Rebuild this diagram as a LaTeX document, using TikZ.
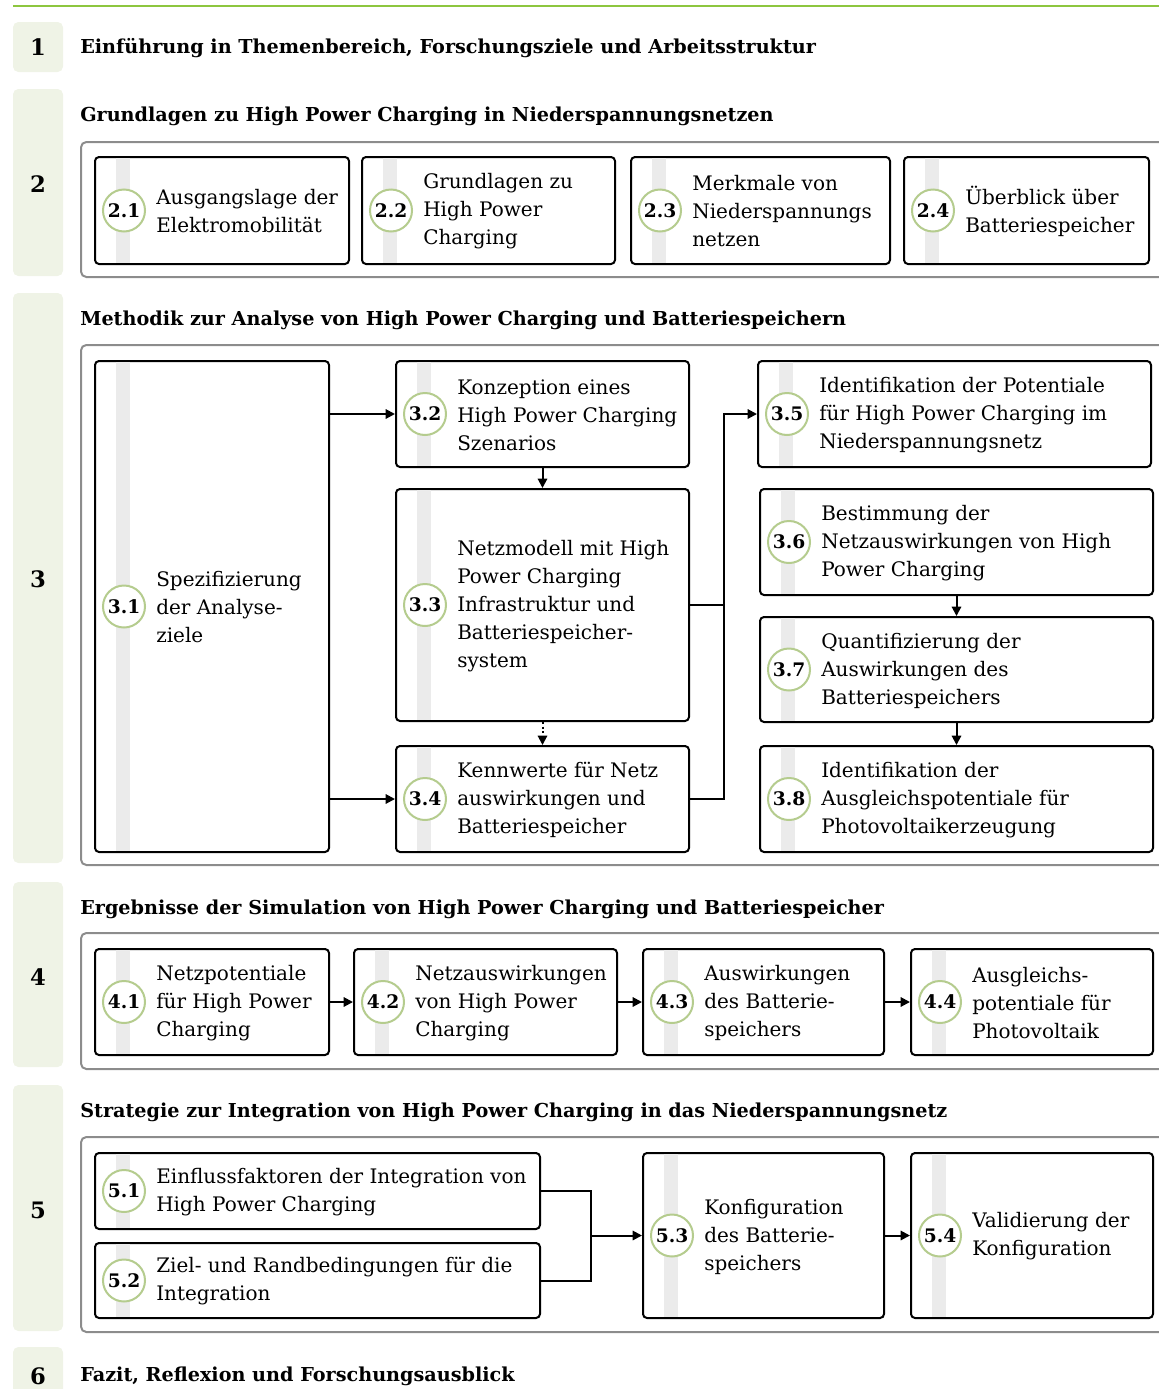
\documentclass[tikz,border=0pt]{standalone}
\usepackage{fontspec}
\setmainfont{DejaVu Serif}
\usetikzlibrary{arrows.meta}
\definecolor{grn}{RGB}{141,198,63}
\definecolor{chapfill}{RGB}{239,243,230}
\definecolor{circ}{RGB}{181,204,142}
\definecolor{strp}{RGB}{235,235,235}
\definecolor{outerc}{RGB}{140,140,140}
\tikzset{
  stepbox/.style={draw=black, line width=1.5pt, rounded corners=3pt, fill=white, inner sep=0pt},
  numcirc/.style={circle, draw=circ, line width=1.5pt, fill=white, minimum size=31.5pt, inner sep=0pt, font=\fontsize{14}{18}\selectfont\bfseries},
  steptext/.style={align=left, inner sep=0pt, font=\fontsize{15}{21}\selectfont},
  head/.style={inner sep=0pt, font=\fontsize{14.4}{18}\selectfont\bfseries},
  chapnum/.style={inner sep=0pt, font=\fontsize{17}{20}\selectfont\bfseries},
  chapbox/.style={fill=chapfill, rounded corners=4pt},
  outerbox/.style={draw=outerc, line width=1.5pt, rounded corners=4pt},
  conn/.style={draw=black, line width=1.5pt},
  arr/.style={conn, -{Triangle[length=7pt,width=7pt]}},
}
\newcommand\mkbox[7]{%
  \node[stepbox, minimum width={(#4-#2)*0.75pt}, minimum height={(#5-#3)*0.75pt}] (b#1) at ({(#2+#4)/2},{(#3+#5)/2}) {};
  \fill[strp] ({#2+21},{#3+1.2}) rectangle ({#2+35},{#5-1.2});
  \node[numcirc] (c#1) at ({#2+29},{(#3+#5)/2}) {#6};
  \node[steptext, anchor=west] (t#1) at ({#2+61},{(#3+#5)/2+1}) {#7};
}
\begin{document}
\begin{tikzpicture}[x=0.75pt, y=-0.75pt]
\useasboundingbox (0,0) rectangle (1159,1389);
% top line
\draw[grn, line width=1.5pt] (13,6) -- (1159,6);
% chapter boxes
\fill[chapbox] (13,22) rectangle (63,72);
\fill[chapbox] (13,89) rectangle (63,276);
\fill[chapbox] (13,293) rectangle (63,863);
\fill[chapbox] (13,882) rectangle (63,1067);
\fill[chapbox] (13,1085) rectangle (63,1331);
\fill[chapbox] (13,1347) rectangle (63,1410);
\node[chapnum] (n1) at (38,47) {1};
\node[chapnum] (n2) at (38,184) {2};
\node[chapnum] (n3) at (38,579) {3};
\node[chapnum] (n4) at (38,977) {4};
\node[chapnum] (n5) at (38,1210) {5};
\node[chapnum] (n6) at (38,1376) {6};
% headers
\node[head, anchor=base west] (h1) at (80,53) {Einführung in Themenbereich, Forschungsziele und Arbeitsstruktur};
\node[head, anchor=base west] (h2) at (80,121) {Grundlagen zu High Power Charging in Niederspannungsnetzen};
\node[head, anchor=base west] (h3) at (80,325) {Methodik zur Analyse von High Power Charging und Batteriespeichern};
\node[head, anchor=base west] (h4) at (80,914) {Ergebnisse der Simulation von High Power Charging und Batteriespeicher};
\node[head, anchor=base west] (h5) at (80,1117) {Strategie zur Integration von High Power Charging in das Niederspannungsnetz};
\node[head, anchor=base west] (h6) at (80,1381) {Fazit, Reflexion und Forschungsausblick};
% outer boxes
\draw[outerbox] (81,142) rectangle (1180,277);
\draw[outerbox] (81,345) rectangle (1180,865);
\draw[outerbox] (81,933) rectangle (1180,1069);
\draw[outerbox] (81,1137) rectangle (1180,1332);
% section 2
\mkbox{21}{95}{157}{349}{264}{2.1}{Ausgangslage der\\Elektromobilität}
\mkbox{22}{362}{157}{615}{264}{2.2}{Grundlagen zu\\High Power\\Charging}
\mkbox{23}{631}{157}{890}{264}{2.3}{Merkmale von\\Niederspannungs\\netzen}
\mkbox{24}{904}{157}{1149}{264}{2.4}{Überblick über\\Batteriespeicher}
% section 3
\mkbox{31}{95}{361}{329}{852}{3.1}{Spezifizierung\\der Analyse-\\ziele}
\mkbox{32}{396}{361}{689}{467}{3.2}{Konzeption eines\\High Power Charging\\Szenarios}
\mkbox{33}{396}{489}{689}{721}{3.3}{Netzmodell mit High\\Power Charging\\Infrastruktur und\\Batteriespeicher-\\system}
\mkbox{34}{396}{746}{689}{852}{3.4}{Kennwerte für Netz\\auswirkungen und\\Batteriespeicher}
\mkbox{35}{758}{361}{1151}{467}{3.5}{Identifikation der Potentiale\\für High Power Charging im\\Niederspannungsnetz}
\mkbox{36}{760}{489}{1153}{595}{3.6}{Bestimmung der\\Netzauswirkungen von High\\Power Charging}
\mkbox{37}{760}{617}{1153}{722}{3.7}{Quantifizierung der\\Auswirkungen des\\Batteriespeichers}
\mkbox{38}{760}{746}{1153}{852}{3.8}{Identifikation der\\Ausgleichspotentiale für\\Photovoltaikerzeugung}
% section 4
\mkbox{41}{95}{949}{329}{1055}{4.1}{Netzpotentiale\\für High Power\\Charging}
\mkbox{42}{354}{949}{617}{1055}{4.2}{Netzauswirkungen\\von High Power\\Charging}
\mkbox{43}{643}{949}{884}{1055}{4.3}{Auswirkungen\\des Batterie-\\speichers}
\mkbox{44}{911}{949}{1153}{1055}{4.4}{Ausgleichs-\\potentiale für\\Photovoltaik}
% section 5
\mkbox{51}{95}{1153}{540}{1229}{5.1}{Einflussfaktoren der Integration von\\High Power Charging}
\mkbox{52}{95}{1243}{540}{1318}{5.2}{Ziel- und Randbedingungen für die\\Integration}
\mkbox{53}{643}{1153}{884}{1318}{5.3}{Konfiguration\\des Batterie-\\speichers}
\mkbox{54}{911}{1153}{1153}{1318}{5.4}{Validierung der\\Konfiguration}
% connectors section 3
\draw[arr] (b31.east |- b32.west) -- (b32.west);
\draw[arr] (b31.east |- b34.west) -- (b34.west);
\draw[arr] (b32.south) -- (b33.north);
\draw[arr, dotted] (b33.south) -- (b34.north);
\coordinate (j3) at (724,605);
\draw[conn] (b33.east) -- (j3);
\draw[arr] (b34.east) -| (j3 |- b35.west) -- (b35.west);
\draw[arr] (b36.south) -- (b37.north);
\draw[arr] (b37.south) -- (b38.north);
% section 4
\draw[arr] (b41.east) -- (b42.west);
\draw[arr] (b42.east) -- (b43.west);
\draw[arr] (b43.east) -- (b44.west);
% section 5
\coordinate (j5) at (591,1235.5);
\draw[conn] (b51.east) -| (j5);
\draw[conn] (b52.east) -| (j5);
\draw[arr] (j5) -- (b53.west);
\draw[arr] (b53.east) -- (b54.west);
\end{tikzpicture}
\end{document}
